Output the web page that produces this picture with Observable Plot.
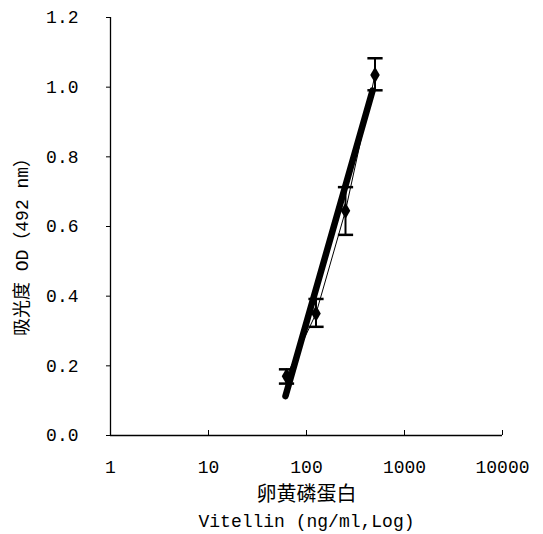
<!DOCTYPE html>
<html>
<head>
<meta charset="utf-8">
<script src="https://cdn.jsdelivr.net/npm/d3@7"></script>
<script src="https://cdn.jsdelivr.net/npm/@observablehq/plot@0.6"></script>
<style>
  html, body { margin: 0; padding: 0; background: white; }
</style>
</head>
<body>
<div id="chart"></div>
<script>
// Data
const conc = [62.5, 125, 250, 500];          // Vitellin ng/ml
const od = [0.17, 0.35, 0.645, 1.035];       // mean OD
const odHigh = [0.19, 0.392, 0.713, 1.083];  // error bar top
const odLow = [0.149, 0.312, 0.576, 0.991];  // error bar bottom
const fitConc = [61, 472];                   // regression line ends
const fitOD = [0.113, 0.99];
const xTicks = [1, 10, 100, 1000, 10000];
const yTicks = [0, 0.2, 0.4, 0.6, 0.8, 1.0, 1.2];
const yTitle = "吸光度 OD（492 nm）";
const xTitleCn = "卵黄磷蛋白";
const xTitleEn = "Vitellin (ng/ml,Log)";

const points = conc.map((c, i) => ({x: c, y: od[i], hi: odHigh[i], lo: odLow[i]}));
const fit = fitConc.map((c, i) => ({x: c, y: fitOD[i]}));

const capSymbol = {
  draw(ctx, size) {
    const w = Math.sqrt(size);
    ctx.moveTo(-w, 0);
    ctx.lineTo(w, 0);
  }
};

const mono = "'Liberation Mono', 'Noto Sans CJK SC', monospace";

const chart = Plot.plot({
  width: 543,
  height: 534,
  marginLeft: 110,
  marginRight: 41,
  marginTop: 17,
  marginBottom: 99,
  x: {type: "log", domain: [1, 10000]},
  y: {domain: [0, 1.2]},
  style: {fontFamily: mono, fontSize: "17px", background: "white", color: "black"},
  marks: [
    Plot.axisY({ticks: yTicks, tickFormat: d => d.toFixed(1), tickSize: 4, tickPadding: 28, label: null, fontSize: 18, fontFamily: mono}),
    Plot.axisX({ticks: xTicks, tickFormat: d => String(d), tickSize: -5, tickPadding: 30, label: null, fontSize: 18, fontFamily: mono}),
    Plot.ruleX([1], {stroke: "black", strokeWidth: 1.3}),
    Plot.ruleY([0], {stroke: "black", strokeWidth: 1.3}),
    // thin line through means
    Plot.line(points, {x: "x", y: "y", stroke: "black", strokeWidth: 1}),
    // regression line
    Plot.line(fit, {x: "x", y: "y", stroke: "black", strokeWidth: 6.5, strokeLinecap: "round"}),
    // error bars
    Plot.ruleX(points, {x: "x", y1: "lo", y2: "hi", stroke: "black", strokeWidth: 2}),
    Plot.dot(points, {x: "x", y: "hi", symbol: capSymbol, r: 4.3, stroke: "black", strokeWidth: 2.5}),
    Plot.dot(points, {x: "x", y: "lo", symbol: capSymbol, r: 4.3, stroke: "black", strokeWidth: 2.5}),
    // markers
    Plot.dot(points, {x: "x", y: "y", symbol: "diamond", r: 5, fill: "black", stroke: "none"}),
    // titles
    Plot.text([yTitle], {frameAnchor: "left", textAnchor: "middle", rotate: -90, dx: -88, dy: 16, fontSize: 18, fill: "black", fontFamily: mono}),
    Plot.text([xTitleCn], {frameAnchor: "bottom", lineAnchor: "middle", dy: 59, fontSize: 20, fill: "black", fontFamily: "'Noto Sans CJK SC'"}),
    Plot.text([xTitleEn], {frameAnchor: "bottom", lineAnchor: "middle", dy: 86, fontSize: 18, fill: "black", fontFamily: mono})
  ]
});
document.getElementById("chart").appendChild(chart);
</script>
</body>
</html>
